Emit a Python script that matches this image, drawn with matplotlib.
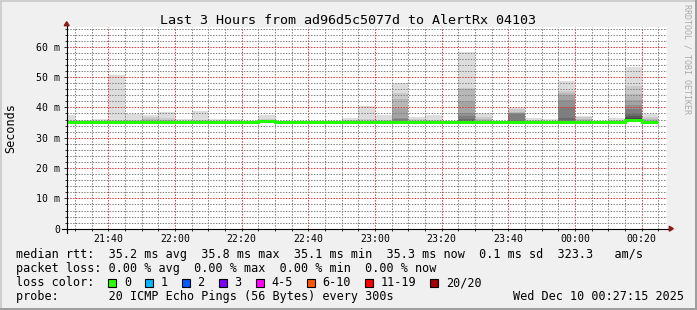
import matplotlib
matplotlib.use("Agg")
import matplotlib.pyplot as plt
import matplotlib.dates as mdates
from matplotlib.patches import Rectangle, Polygon
from matplotlib.lines import Line2D
from matplotlib.ticker import MultipleLocator, FuncFormatter
import pandas as pd

plt.rcParams['font.family'] = ['DejaVu Sans Mono']

# ---------------- data ----------------
title = "Last 3 Hours from ad96d5c5077d to AlertRx 04103"
slot_start = pd.date_range("2025-12-09 21:25", periods=36, freq="5min")
view_start = pd.Timestamp("2025-12-09 21:27:30")
view_end = pd.Timestamp("2025-12-10 00:27:30")

median_ms = [35.2, 35.2, 35.2, 35.1, 35.2, 35.2, 35.2, 35.2, 35.2, 35.2,
             35.2, 35.2, 35.5, 35.2, 35.2, 35.1, 35.2, 35.2, 35.2, 35.2,
             35.3, 35.2, 35.2, 35.2, 35.2, 35.2, 35.2, 35.2, 35.2, 35.2,
             35.2, 35.2, 35.2, 35.2, 35.8, 35.3]
low_ms = [35.0, 35.0, 35.0, 34.9, 35.0, 35.0, 35.0, 35.0, 35.0, 35.0,
          35.0, 35.0, 35.1, 35.0, 35.0, 34.9, 35.0, 35.0, 35.0, 35.0,
          35.0, 35.0, 35.0, 35.0, 35.0, 35.0, 35.0, 35.0, 35.0, 35.0,
          35.0, 35.0, 35.0, 35.0, 35.2, 35.0]
# descending top pings of the smoke layers (outer pair first)
smoke_tops_ms = [
    [37.5, 35.7],
    [35.9],
    [36.1],
    [50.7, 35.8],
    [37.8, 35.9],
    [37.5, 36.9, 36.3],
    [38.6, 36.6, 36.0],
    [36.2],
    [38.8, 36.0],
    [36.2],
    [36.2],
    [35.6],
    [37.5, 36.2],
    [35.6],
    [35.6],
    [35.6],
    [35.6],
    [36.4, 36.0],
    [40.4, 36.2],
    [37.5, 36.0],
    [47.9, 44.6, 42.7, 39.7, 36.6, 36.1],
    [36.7, 36.1],
    [37.5, 36.0],
    [35.6],
    [58.2, 46.3, 46.2, 42.1, 38.1, 37.0, 36.3, 35.9],
    [38.0, 36.9, 36.2],
    [35.6],
    [39.9, 39.4, 38.6, 38.1, 38.0, 37.9, 35.9],
    [36.6, 36.0],
    [36.2],
    [48.7, 45.4, 44.6, 44.1, 42.4, 40.2, 36.4],
    [37.3, 36.7, 36.1],
    [35.6],
    [36.6, 36.0],
    [53.2, 47.0, 44.5, 42.5, 40.8, 39.5, 38.3, 37.3, 36.5, 36.0],
    [37.7, 36.7, 36.2],
]
y_max_ms = 66.6

stats_rtt = "median rtt:  35.2 ms avg  35.8 ms max  35.1 ms min  35.3 ms now  0.1 ms sd  323.3   am/s"
stats_loss = "packet loss: 0.00 % avg  0.00 % max  0.00 % min  0.00 % now"
loss_title = "loss color:"
loss_labels = ["0", "1", "2", "3", "4-5", "6-10", "11-19", "20/20"]
loss_colors = ["#26ff00", "#00b8ff", "#0059ff", "#7e00ff", "#ff00ff",
               "#ff5500", "#ff0000", "#a10000"]
probe_text = "probe:       20 ICMP Echo Pings (56 Bytes) every 300s"
stamp_text = "Wed Dec 10 00:27:15 2025"
tag_text = "RRDTOOL / TOBI OETIKER"

# ---------------- layout ----------------
W, H = 697, 310
L, R, T, B = 66.7, 666.7, 26.7, 228.7
fig = plt.figure(figsize=(W / 100, H / 100), dpi=100, facecolor="#f0f0f0")


def fx(x):
    return x / W


def fy(y):
    return 1 - y / H


ax = fig.add_axes([fx(L), fy(B), (R - L) / W, (B - T) / H])
ax.set_facecolor("white")
for s in ax.spines.values():
    s.set_visible(False)

# smoke layers
x0 = mdates.date2num(slot_start.to_pydatetime())
step = 5 / 1440
for k in range(10):
    xs, bots, hts = [], [], []
    for i, tops in enumerate(smoke_tops_ms):
        if k < len(tops):
            xs.append(x0[i])
            bots.append(low_ms[i])
            hts.append(tops[k] - low_ms[i])
    g = (int(190 / 10 * (10 - (k + 1))) + 50) / 255
    if xs:
        ax.bar(xs, hts, bottom=bots, width=step, align="edge",
               color=(g, g, g), linewidth=0, zorder=1)

# median line
edges = list(x0) + [x0[-1] + step]
ax.stairs(median_ms, edges, color="#22ff00", linewidth=2.2, zorder=3,
          baseline=None)

ax.set_xlim(mdates.date2num(view_start.to_pydatetime()),
            mdates.date2num(view_end.to_pydatetime()))
ax.set_ylim(0, y_max_ms)

ax.xaxis.set_major_locator(mdates.MinuteLocator(byminute=[0, 20, 40]))
ax.xaxis.set_minor_locator(mdates.MinuteLocator(byminute=range(0, 60, 5)))
ax.xaxis.set_major_formatter(mdates.DateFormatter("%H:%M"))
ax.yaxis.set_major_locator(MultipleLocator(10))
ax.yaxis.set_minor_locator(MultipleLocator(2))
ax.yaxis.set_major_formatter(FuncFormatter(lambda v, p: "0" if v == 0 else f"{int(round(v))} m"))

ax.set_axisbelow(False)
ax.grid(which="major", color=(0.9, 0.2, 0.2, 0.26), linestyle=(0, (1.4, 1.4)), linewidth=0.72)
ax.grid(which="minor", color=(0.5, 0.5, 0.5, 0.2), linestyle=(0, (1.4, 1.4)), linewidth=0.72)

ax.tick_params(axis="both", which="both", direction="out", color="#303030", width=0.7)
ax.tick_params(axis="x", which="major", length=1.5, labelsize=7.1, pad=2.0)
ax.tick_params(axis="x", which="minor", length=1.5)
ax.tick_params(axis="y", which="major", length=2.2, labelsize=7.1, pad=2.6)
ax.tick_params(axis="y", which="minor", length=1.4)

# axis lines with arrows
aw, ah = R - L, B - T
ax.add_line(Line2D([-4.3 / aw, 1 + 4.0 / aw], [0, 0], transform=ax.transAxes,
                   color="black", linewidth=0.8, clip_on=False, zorder=4))
ax.add_line(Line2D([0, 0], [-4.0 / ah, 1 + 1.5 / ah], transform=ax.transAxes,
                   color="black", linewidth=0.8, clip_on=False, zorder=4))
arrow_col = "#8b1a1a"
ax.add_patch(Polygon([(-2.5 / aw, 1 + 1.0 / ah), (2.5 / aw, 1 + 1.0 / ah), (0, 1 + 5.0 / ah)],
                     closed=True, transform=ax.transAxes, color=arrow_col,
                     clip_on=False, zorder=5))
ax.add_patch(Polygon([(1 + 2.6 / aw, 2.5 / ah), (1 + 2.6 / aw, -2.5 / ah), (1 + 6.6 / aw, 0)],
                     closed=True, transform=ax.transAxes, color=arrow_col,
                     clip_on=False, zorder=5))

# texts
fig.text(fx(348.5), fy(24), title, ha="center", va="baseline", fontsize=9.6, color="black")
fig.text(fx(10.8), fy(127.7), "Seconds", rotation=90, ha="center", va="center", fontsize=8.5)
fig.text(fx(686.5), fy(4.5), tag_text, rotation=270, ha="center", va="top",
         fontsize=6, color="#aaaaaa")

LX = 16
CW = 7.11
rows = [258.3, 272.3, 286.3, 300.3]
fig.text(fx(LX), fy(rows[0]), stats_rtt, ha="left", va="baseline", fontsize=8.5)
fig.text(fx(LX), fy(rows[1]), stats_loss, ha="left", va="baseline", fontsize=8.5)
fig.text(fx(LX), fy(rows[2]), loss_title, ha="left", va="baseline", fontsize=8.5)
fig.text(fx(LX), fy(rows[3]), probe_text, ha="left", va="baseline", fontsize=8.5)
fig.text(fx(512.7), fy(rows[3]), stamp_text, ha="left", va="baseline", fontsize=8.5)

xpos = 108.3
for lab, col in zip(loss_labels, loss_colors):
    fig.patches.append(Rectangle((fx(xpos), fy(286.7)), 8 / W, 8 / H,
                                 transform=fig.transFigure, facecolor=col,
                                 edgecolor="black", linewidth=0.8))
    lx = xpos + 15.7
    fig.text(fx(lx), fy(rows[2]), lab, ha="left", va="baseline", fontsize=8.5)
    xpos = lx + len(lab) * CW + 14.0

# 3D frame
fig.patches.append(Rectangle((0, 1 - 2 / H), 1, 2 / H, transform=fig.transFigure,
                             facecolor="#cfcfcf", edgecolor="none"))
fig.patches.append(Rectangle((0, 0), 2 / W, 1, transform=fig.transFigure,
                             facecolor="#cfcfcf", edgecolor="none"))
fig.patches.append(Rectangle((0, 0), 1, 2 / H, transform=fig.transFigure,
                             facecolor="#9e9e9e", edgecolor="none"))
fig.patches.append(Rectangle((1 - 2 / W, 0), 2 / W, 1, transform=fig.transFigure,
                             facecolor="#9e9e9e", edgecolor="none"))

fig.savefig("out.png", dpi=100, facecolor=fig.get_facecolor())
